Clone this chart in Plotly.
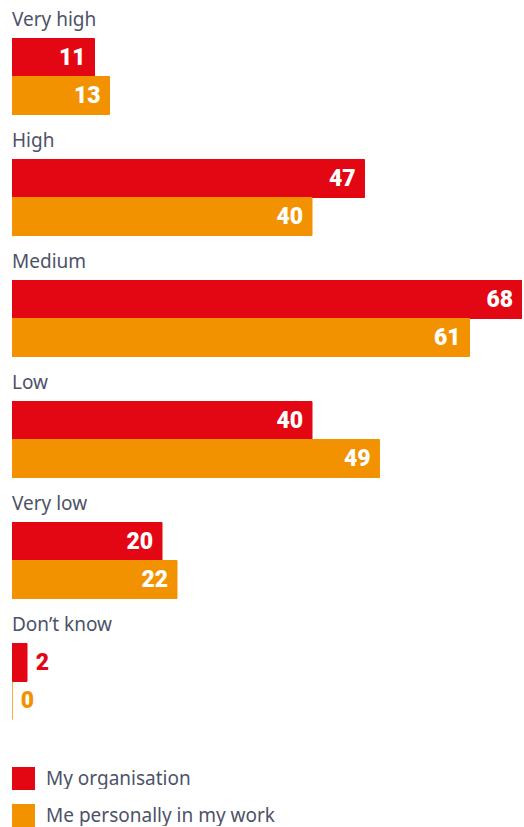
import plotly.graph_objects as go

categories = ["Very high", "High", "Medium", "Low", "Very low", "Don\u2019t know"]
org_values = [11, 47, 68, 40, 20, 2]
personal_values = [13, 40, 61, 49, 22, 0]
series_names = ["My organisation", "Me personally in my work"]

RED = "#e30613"
ORANGE = "#f39200"
TEXT = "#4d5268"
NUM_FONT = "Roboto"
LBL_FONT = "Noto Sans"

def positions(vals):
    return ["inside" if v >= 8 else "outside" for v in vals]

def labels(vals):
    return [f"{v}\u2005" if v >= 8 else f"\u00a0{v}" for v in vals]

fig = go.Figure()
for name, vals, col in [(series_names[0], org_values, RED), (series_names[1], personal_values, ORANGE)]:
    fig.add_trace(go.Bar(
        y=categories, x=vals, name=name, orientation="h",
        marker=dict(color=col, line=dict(width=1, color=col)),
        text=labels(vals),
        textposition=positions(vals),
        insidetextanchor="end",
        insidetextfont=dict(family=NUM_FONT, size=23, color="white", weight=900),
        outsidetextfont=dict(family=NUM_FONT, size=23, color=col, weight=900),
        cliponaxis=False,
        hoverinfo="skip",
    ))

fig.update_layout(
    width=524, height=827,
    margin=dict(l=12, r=2, t=16, b=85),
    paper_bgcolor="white", plot_bgcolor="white",
    barmode="group", bargap=0.372, bargroupgap=0,
    showlegend=False,
    uniformtext=dict(mode=False),
    xaxis=dict(range=[0, 68], visible=False, fixedrange=True),
    yaxis=dict(type="category", categoryorder="array", categoryarray=categories,
               range=[5.5, -0.5], visible=False, fixedrange=True),
    font=dict(family=LBL_FONT, color=TEXT),
)

for c in categories:
    fig.add_annotation(x=0, xref="paper", y=c, yref="y", yshift=58, xshift=-2,
                       text=c, showarrow=False, xanchor="left", yanchor="middle",
                       font=dict(family=LBL_FONT, size=19, color=TEXT))

# legend
for i, (name, col) in enumerate(zip(series_names, [RED, ORANGE])):
    top = -25 - 37 * i
    fig.add_shape(type="rect", xref="paper", yref="paper", xsizemode="pixel", ysizemode="pixel",
                  xanchor=0, yanchor=0, x0=0, x1=23, y0=top, y1=top - 23,
                  fillcolor=col, line=dict(width=0))
    fig.add_annotation(x=0, xref="paper", y=0, yref="paper", xshift=33, yshift=top - 11,
                       text=name, showarrow=False, xanchor="left", yanchor="middle",
                       height=22, borderpad=0,
                       font=dict(family=LBL_FONT, size=19, color=TEXT))

fig.write_html("out.html", config={"displayModeBar": False},
               post_script="document.body.style.margin='0';document.body.style.overflow='hidden';")
